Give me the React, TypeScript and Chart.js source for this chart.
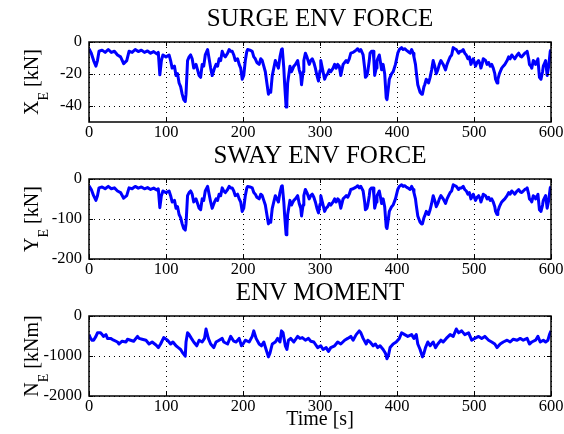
import React, { useEffect, useRef } from "react";
import { Chart, registerables } from "chart.js";

Chart.register(...registerables);

const FONT = "'Liberation Serif', 'Times New Roman', Times, serif";

// Time stamps [s] read for the surge / sway traces
const FORCE_TIME = [
  0, 3, 6, 9, 11, 13, 17, 21, 25, 29, 33, 37, 41, 45, 49,
  52, 56, 60, 64, 68, 72, 76, 80, 84, 88, 90, 92, 94, 96,
  100, 104, 106, 108, 111, 113, 115, 117, 119, 121, 123, 125, 126, 128,
  130, 132, 134, 136, 139, 141, 143, 145, 147, 149, 151, 154, 156, 158,
  160, 163, 165, 167, 169, 171, 173, 175, 177, 180, 182, 184, 186, 188, 190,
  193, 195, 197, 199, 201, 203, 205, 206, 209, 212, 214, 216, 218, 221,
  223, 225, 227, 229, 231, 233, 235, 236, 238, 240, 242, 244, 246, 248, 250, 251,
  253, 254, 256, 257, 258, 261, 263, 264, 266, 268, 271, 273, 275, 276, 278, 279, 281,
  283, 286, 288, 290, 292, 294, 296, 298, 300, 301, 303, 306, 308, 310, 312,
  314, 317, 319, 321, 323, 325, 327, 330, 332, 334, 336, 338, 340, 343,
  345, 347, 349, 351, 353, 356, 358, 359, 361, 362, 364, 365, 367, 369, 370, 371,
  373, 374, 376, 377, 379, 380, 382, 384, 386, 387, 389, 390, 393, 395, 398,
  401, 403, 406, 408, 410, 412, 414, 417, 419, 421, 422, 424, 425,
  427, 430, 432, 433, 435, 436, 438, 441, 443, 445, 447, 449, 451, 453,
  455, 457, 460, 463, 465, 467, 469, 471, 473, 475, 477, 480,
  482, 484, 486, 488, 490, 492, 494, 496, 497, 499, 502, 504, 506, 508, 509,
  511, 512, 515, 517, 519, 521, 523, 525, 527, 528, 530, 531, 533, 536, 538,
  540, 543, 545, 547, 549, 551, 553, 556, 558, 560, 562, 564, 566, 568, 569,
  571, 572, 574, 575, 577, 579, 580, 582, 583, 585, 587, 589, 590, 592, 593, 595, 597, 599, 600,
];

// Surge environmental force X_E [kN]
const SURGE_FORCE = [
  -4.2, -7, -11.6, -15.1, -11.6, -5.8, -5.1, -6.5, -4.7, -6.5, -5.8, -8.1, -9.3, -13.5, -11.6,
  -5.8, -6.5, -4.7, -6, -5.1, -6.5, -5.6, -7, -6, -7.4, -6.5, -20.5, -11.6, -8.1,
  -9.3, -8.1, -11.6, -16.3, -15.1, -20.9, -19.8, -25.6, -27.9, -32.6, -36, -37.2, -32.6, -11.6,
  -9.3, -8.1, -10.5, -16.3, -14, -17.4, -21, -22.1, -14, -15.1, -8.1, -4.7, -10.5, -16.3,
  -21, -16.3, -14, -15.1, -10.5, -11.6, -5.8, -8.1, -9.3, -7, -4.7, -5.8, -5.8, -8.1, -11.6,
  -10.5, -14, -16.3, -23.3, -20.9, -11.6, -5.8, -4.7, -5.1, -5.8, -9.3, -10.5, -12.8, -14,
  -10.5, -11.6, -15.1, -18.6, -25.6, -32.6, -30.2, -31.4, -21, -16.3, -11.6, -14, -16.3, -9.3, -4.7, -4.2,
  -16.3, -25.6, -40.7, -37.2, -25.6, -15.1, -18.6, -17.4, -15.1, -14, -11.6, -17.4, -20.9, -26.7, -18.6, -11.6, -7,
  -9.3, -14, -11.6, -10.5, -12.8, -16.3, -20.9, -24.4, -18, -11.6, -16.3, -23.3, -20.9, -19.8, -17.4,
  -18.6, -16.3, -14, -16.3, -14, -15.1, -20.9, -14, -12.8, -11.6, -12.8, -10.5, -7, -6.5,
  -5.8, -5.1, -4.2, -5.8, -4.7, -8.1, -16.3, -22.1, -20.9, -18.6, -11.6, -7, -5.8, -5.8, -11.6, -20.9,
  -16.3, -11.6, -9.3, -8.1, -14, -17.4, -14, -19.8, -34.9, -36, -27.9, -23.3, -19.8, -18.6, -14,
  -7, -4.7, -3.5, -4.7, -4.2, -5.1, -5.8, -7, -4.7, -7, -9.3, -14, -18.6,
  -26.7, -31.4, -32.6, -32.6, -27.9, -26.7, -23.3, -25.6, -22.1, -17.4, -11.6, -15.1, -19.8, -17.4,
  -14, -11.6, -14, -17.4, -14, -11.6, -9.3, -8.1, -3.5, -4.2, -4.7, -7,
  -5.8, -5.8, -4.7, -7, -8.1, -10.5, -9.3, -14, -12.8, -10.5, -15.1, -12.8, -11.6, -14, -16.3,
  -12.8, -10.5, -11.6, -14, -12.8, -15.1, -14, -16.3, -19.8, -23.3, -25.6, -23.3, -19.8, -16.3, -15.1,
  -14, -11.6, -9.3, -10.5, -8.1, -9.3, -10.5, -8.1, -7, -8.8, -9.3, -8.1, -7, -6.5, -5.8,
  -10.5, -14, -15.1, -16.3, -11.6, -12.8, -14, -11.6, -10.5, -22.1, -23.3, -18.6, -15.1, -12.8, -11.6, -20.9, -15.1, -5.8, -4.7,
];

// Sway environmental force Y_E [kN]
const SWAY_FORCE = [
  -16.8, -26.2, -41.7, -53.4, -41.7, -22.2, -19.8, -24.5, -18.5, -24.5, -22.2, -29.9, -33.9, -48, -41.7,
  -22.2, -24.5, -18.5, -22.8, -19.8, -24.5, -21.5, -26.2, -22.8, -27.5, -24.5, -71.6, -41.7, -29.9,
  -33.9, -29.9, -41.7, -57.4, -53.4, -72.9, -69.2, -88.7, -96.4, -112.2, -123.6, -127.7, -112.2, -41.7,
  -33.9, -29.9, -38, -57.4, -49.7, -61.1, -73.2, -76.9, -49.7, -53.4, -29.9, -18.5, -38, -57.4,
  -73.2, -57.4, -49.7, -53.4, -38, -41.7, -22.2, -29.9, -33.9, -26.2, -18.5, -22.2, -22.2, -29.9, -41.7,
  -38, -49.7, -57.4, -81, -72.9, -41.7, -22.2, -18.5, -19.8, -22.2, -33.9, -38, -45.7, -49.7,
  -38, -41.7, -53.4, -65.2, -88.7, -112.2, -104.1, -108.2, -73.2, -57.4, -41.7, -49.7, -57.4, -33.9, -18.5, -16.8,
  -57.4, -88.7, -139.4, -127.7, -88.7, -53.4, -65.2, -61.1, -53.4, -49.7, -41.7, -61.1, -72.9, -92.4, -65.2, -41.7, -26.2,
  -33.9, -49.7, -41.7, -38, -45.7, -57.4, -72.9, -84.7, -63.2, -41.7, -57.4, -81, -72.9, -69.2, -61.1,
  -65.2, -57.4, -49.7, -57.4, -49.7, -53.4, -72.9, -49.7, -45.7, -41.7, -45.7, -38, -26.2, -24.5,
  -22.2, -19.8, -16.8, -22.2, -18.5, -29.9, -57.4, -76.9, -72.9, -65.2, -41.7, -26.2, -22.2, -22.2, -41.7, -72.9,
  -57.4, -41.7, -33.9, -29.9, -49.7, -61.1, -49.7, -69.2, -120, -123.6, -96.4, -81, -69.2, -65.2, -49.7,
  -26.2, -18.5, -14.4, -18.5, -16.8, -19.8, -22.2, -26.2, -18.5, -26.2, -33.9, -49.7, -65.2,
  -92.4, -108.2, -112.2, -112.2, -96.4, -92.4, -81, -88.7, -76.9, -61.1, -41.7, -53.4, -69.2, -61.1,
  -49.7, -41.7, -49.7, -61.1, -49.7, -41.7, -33.9, -29.9, -14.4, -16.8, -18.5, -26.2,
  -22.2, -22.2, -18.5, -26.2, -29.9, -38, -33.9, -49.7, -45.7, -38, -53.4, -45.7, -41.7, -49.7, -57.4,
  -45.7, -38, -41.7, -49.7, -45.7, -53.4, -49.7, -57.4, -69.2, -81, -88.7, -81, -69.2, -57.4, -53.4,
  -49.7, -41.7, -33.9, -38, -29.9, -33.9, -38, -29.9, -26.2, -32.2, -33.9, -29.9, -26.2, -24.5, -22.2,
  -38, -49.7, -53.4, -57.4, -41.7, -45.7, -49.7, -41.7, -38, -76.9, -81, -65.2, -53.4, -45.7, -41.7, -72.9, -53.4, -22.2, -18.5,
];

// Time stamps [s] read for the moment trace
const MOMENT_TIME = [
  0, 2, 4, 6, 9, 11, 15, 17, 19, 22, 24, 28, 32, 37, 39, 43, 48, 50, 54, 58,
  63, 65, 69, 74, 78, 82, 87, 90, 93, 97, 102, 106, 109, 113, 116, 119, 122, 125, 126, 128,
  130, 133, 136, 140, 143, 147, 150, 152, 155, 158, 162, 165, 169, 173, 175, 180, 184, 188, 191, 195,
  198, 200, 203, 208, 212, 214, 217, 221, 224, 227, 230, 233, 235, 238, 242, 245, 248, 250, 252, 255,
  257, 259, 262, 266, 271, 274, 277, 281, 285, 288, 292, 297, 301, 304, 308, 311, 314, 319, 323, 327,
  332, 336, 340, 343, 347, 351, 353, 356, 360, 362, 365, 369, 372, 375, 378, 382, 385, 387, 389, 391,
  395, 399, 403, 406, 410, 414, 419, 422, 425, 427, 430, 433, 435, 437, 440, 443, 447, 450, 453, 457,
  460, 464, 469, 473, 477, 480, 484, 488, 493, 497, 501, 506, 510, 514, 519, 523, 527, 530, 534, 538,
  543, 547, 551, 556, 560, 564, 569, 572, 575, 580, 583, 586, 590, 593, 596, 598, 600,
];

// Environmental moment N_E [kNm]
const MOMENT_VALUE = [
  -465, -558, -605, -605, -510, -420, -420, -465, -510, -465, -560, -560, -605, -650, -700, -630, -650, -580, -605, -630,
  -510, -560, -580, -605, -700, -650, -725, -790, -700, -540, -605, -700, -650, -745, -790, -837, -930, -1005, -650, -420,
  -465, -560, -650, -745, -605, -650, -560, -325, -560, -700, -790, -650, -605, -560, -650, -700, -510, -630, -650, -560,
  -745, -700, -605, -650, -510, -372, -560, -700, -745, -650, -837, -1023, -930, -700, -650, -560, -650, -372, -420, -745,
  -837, -605, -560, -650, -510, -560, -540, -605, -560, -630, -650, -790, -745, -837, -790, -885, -790, -745, -650, -700,
  -605, -560, -510, -605, -465, -372, -420, -560, -700, -605, -650, -745, -700, -790, -745, -837, -930, -1070, -975, -790,
  -700, -650, -560, -420, -465, -510, -465, -560, -465, -700, -837, -1023, -930, -790, -650, -745, -650, -790, -700, -605,
  -650, -560, -465, -510, -325, -420, -372, -465, -420, -605, -560, -510, -560, -510, -605, -650, -700, -790, -700, -650,
  -605, -650, -580, -605, -560, -605, -560, -700, -650, -605, -510, -650, -605, -650, -605, -465, -372,
];

const X_TICKS = [0, 100, 200, 300, 400, 500, 600];
const SURGE_TICKS = [-40, -20, 0];
const SWAY_TICKS = [-200, -100, 0];
const MOMENT_TICKS = [-2000, -1000, 0];

type Panel = {
  title: string;
  main: string;
  sub: string;
  unit: string;
  times: number[];
  values: number[];
  yMin: number;
  yMax: number;
  yTicks: number[];
  top: number;
  height: number;
  xLabel?: string;
};

const PANELS: Panel[] = [
  { title: "SURGE ENV FORCE", main: "X", sub: "E", unit: "[kN]", times: FORCE_TIME, values: SURGE_FORCE, yMin: -50, yMax: 0, yTicks: SURGE_TICKS, top: 0, height: 137 },
  { title: "SWAY ENV FORCE", main: "Y", sub: "E", unit: "[kN]", times: FORCE_TIME, values: SWAY_FORCE, yMin: -200, yMax: 0, yTicks: SWAY_TICKS, top: 137, height: 137 },
  { title: "ENV MOMENT", main: "N", sub: "E", unit: "[kNm]", times: MOMENT_TIME, values: MOMENT_VALUE, yMin: -2000, yMax: 0, yTicks: MOMENT_TICKS, top: 274, height: 160, xLabel: "Time [s]" },
];

const PLOT_TOP = 42;
const PLOT_BOTTOM = 122;
const PLOT_LEFT = 89;
const PLOT_RIGHT = 551;
const W = 564;

function Subplot({ panel }: { panel: Panel }) {
  const ref = useRef<HTMLCanvasElement>(null);
  useEffect(() => {
    const canvas = ref.current;
    if (!canvas) return;
    const n = Math.min(panel.times.length, panel.values.length);
    const points = [];
    for (let i = 0; i < n; i++) points.push({ x: panel.times[i], y: panel.values[i] });

    const decor = {
      id: "matlabDecor",
      afterDraw(chart: any) {
        const ctx = chart.ctx as CanvasRenderingContext2D;
        const a = chart.chartArea;
        const xs = chart.scales.x;
        const ys = chart.scales.y;
        ctx.save();
        // inward tick marks
        ctx.strokeStyle = "#000";
        ctx.lineWidth = 1;
        ctx.beginPath();
        for (const v of X_TICKS) {
          const px = Math.round(xs.getPixelForValue(v)) + 0.5;
          ctx.moveTo(px, a.top);
          ctx.lineTo(px, a.top + 4);
          ctx.moveTo(px, a.bottom);
          ctx.lineTo(px, a.bottom - 4);
        }
        for (const v of panel.yTicks) {
          const py = Math.round(ys.getPixelForValue(v)) + 0.5;
          ctx.moveTo(a.left, py);
          ctx.lineTo(a.left + 4, py);
          ctx.moveTo(a.right, py);
          ctx.lineTo(a.right - 4, py);
        }
        ctx.stroke();
        // box
        ctx.lineWidth = 1.5;
        ctx.strokeRect(a.left, a.top, a.right - a.left, a.bottom - a.top);

        ctx.fillStyle = "#000";
        // title
        ctx.font = `25px ${FONT}`;
        ctx.textAlign = "center";
        ctx.textBaseline = "middle";
        ctx.fillText(panel.title, (a.left + a.right) / 2, 19.5);

        // x label
        if (panel.xLabel) {
          ctx.font = `20px ${FONT}`;
          ctx.fillText(panel.xLabel, (a.left + a.right) / 2, 146);
        }

        // y label with subscript
        ctx.save();
        ctx.translate(31.5, (a.top + a.bottom) / 2);
        ctx.rotate(-Math.PI / 2);
        ctx.textAlign = "left";
        ctx.textBaseline = "alphabetic";
        const mainFont = `20px ${FONT}`;
        const subFont = `14px ${FONT}`;
        ctx.font = mainFont;
        const w1 = ctx.measureText(panel.main).width;
        const rest = " " + panel.unit;
        const w3 = ctx.measureText(rest).width;
        ctx.font = subFont;
        const w2 = ctx.measureText(panel.sub).width;
        const x0 = -(w1 + w2 + w3) / 2;
        const base = 6.6;
        ctx.font = mainFont;
        ctx.fillText(panel.main, x0, base);
        ctx.font = subFont;
        ctx.fillText(panel.sub, x0 + w1, base + 10);
        ctx.font = mainFont;
        ctx.fillText(rest, x0 + w1 + w2, base);
        ctx.restore();

        ctx.restore();
      },
    };

    const chart = new Chart(canvas, {
      type: "line",
      data: {
        datasets: [
          {
            data: points,
            borderColor: "#0000ff",
            borderWidth: 3,
            pointRadius: 0,
            tension: 0,
            fill: false,
            borderJoinStyle: "round",
          } as any,
        ],
      },
      options: {
        responsive: false,
        animation: false,
        events: [],
        layout: { padding: { top: PLOT_TOP, right: W - PLOT_RIGHT, bottom: 0, left: 0 } },
        plugins: {
          legend: { display: false },
          tooltip: { enabled: false },
          title: { display: false },
        },
        scales: {
          x: {
            type: "linear",
            min: 0,
            max: 600,
            afterBuildTicks: (s: any) => {
              s.ticks = X_TICKS.map((v) => ({ value: v }));
            },
            afterFit: (s: any) => {
              s.height = panel.height - PLOT_BOTTOM;
              s.paddingLeft = 0;
              s.paddingRight = 0;
            },
            grid: { color: "#000", lineWidth: 1, drawTicks: false },
            border: { display: false, dash: [1, 4] },
            ticks: {
              padding: 1,
              color: "#000",
              font: { family: FONT, size: 16.5 },
              maxRotation: 0,
              autoSkip: false,
              callback: (v: any) => `${v}`,
            },
          },
          y: {
            type: "linear",
            min: panel.yMin,
            max: panel.yMax,
            afterBuildTicks: (s: any) => {
              s.ticks = panel.yTicks.map((v) => ({ value: v }));
            },
            afterFit: (s: any) => {
              s.width = PLOT_LEFT;
              s.paddingTop = 0;
              s.paddingBottom = 0;
            },
            grid: { color: "#000", lineWidth: 1, drawTicks: false },
            border: { display: false, dash: [1, 4] },
            ticks: {
              padding: 7,
              color: "#000",
              font: { family: FONT, size: 16.5 },
              autoSkip: false,
              callback: (v: any) => `${v}`,
            },
          },
        },
      },
      plugins: [decor],
    } as any);
    return () => chart.destroy();
  }, [panel]);

  return (
    <canvas
      ref={ref}
      width={W}
      height={panel.height}
      style={{ position: "absolute", left: 0, top: panel.top, width: W, height: panel.height, display: "block" }}
    />
  );
}

export default function App() {
  return (
    <div style={{ position: "absolute", left: 0, top: 0, width: W, height: 434, background: "#fff", overflow: "hidden" }}>
      {PANELS.map((p) => (
        <Subplot key={p.title} panel={p} />
      ))}
    </div>
  );
}
